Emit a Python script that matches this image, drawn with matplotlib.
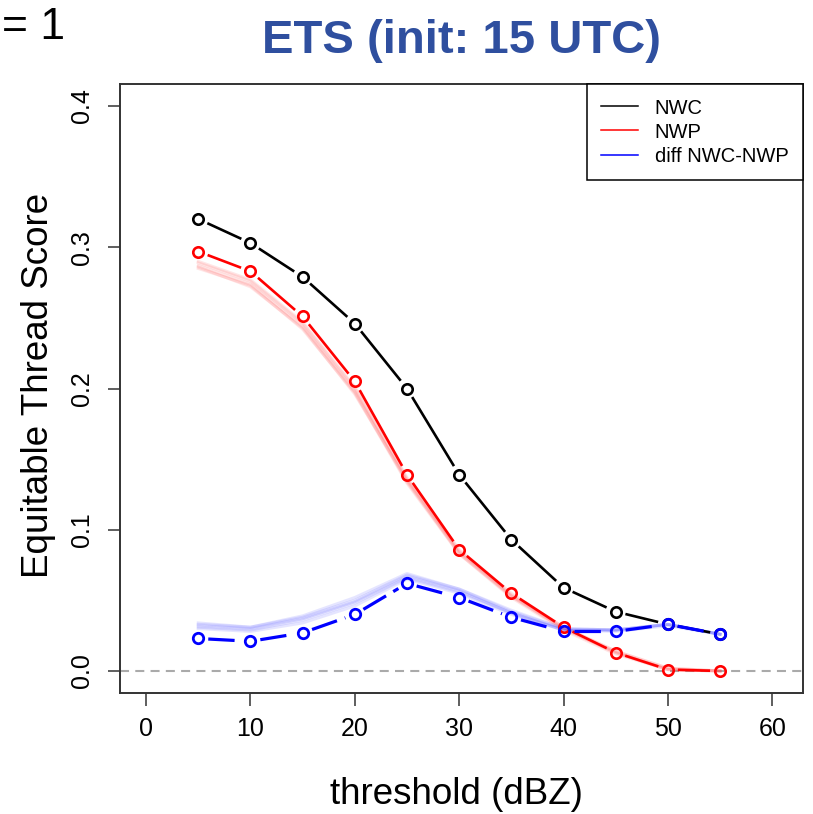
import numpy as np
import matplotlib
matplotlib.use("agg")
import matplotlib.pyplot as plt
from matplotlib.collections import LineCollection
from matplotlib.lines import Line2D

plt.rcParams['font.family'] = ['Liberation Sans', 'DejaVu Sans']
plt.rcParams['lines.scale_dashes'] = False

threshold = [5, 10, 15, 20, 25, 30, 35, 40, 45, 50, 55]
nwc = [0.320, 0.303, 0.279, 0.246, 0.200, 0.139, 0.093, 0.059, 0.042, 0.033, 0.026]
nwp = [0.297, 0.283, 0.251, 0.205, 0.139, 0.086, 0.055, 0.031, 0.013, 0.001, 0.000]
diff = [0.023, 0.021, 0.027, 0.040, 0.062, 0.052, 0.038, 0.028, 0.028, 0.033, 0.026]

# faint member lines behind NWP and diff
nwp_members = [
    [0.289, 0.276, 0.246, 0.200, 0.136, 0.085, 0.054, 0.031, 0.014, 0.002, 0.000],
    [0.287, 0.274, 0.244, 0.198, 0.134, 0.084, 0.053, 0.030, 0.013, 0.001, 0.000],
    [0.285, 0.273, 0.242, 0.197, 0.133, 0.083, 0.053, 0.030, 0.013, 0.001, 0.000],
    [0.290, 0.277, 0.247, 0.201, 0.137, 0.086, 0.055, 0.031, 0.014, 0.002, 0.000],
    [0.286, 0.272, 0.243, 0.196, 0.135, 0.083, 0.052, 0.029, 0.012, 0.001, 0.000],
]
diff_members = [
    [0.033, 0.031, 0.038, 0.050, 0.068, 0.058, 0.042, 0.030, 0.029, 0.033, 0.026],
    [0.031, 0.029, 0.036, 0.048, 0.066, 0.056, 0.041, 0.029, 0.029, 0.033, 0.026],
    [0.034, 0.031, 0.039, 0.052, 0.069, 0.058, 0.043, 0.030, 0.029, 0.033, 0.026],
    [0.030, 0.028, 0.034, 0.046, 0.065, 0.055, 0.040, 0.029, 0.028, 0.032, 0.026],
    [0.032, 0.030, 0.037, 0.049, 0.067, 0.057, 0.041, 0.029, 0.029, 0.033, 0.026],
]

xticks = [0, 10, 20, 30, 40, 50, 60]
yticks = [0.0, 0.1, 0.2, 0.3, 0.4]

W, H = 813, 814
fig = plt.figure(figsize=(W / 100, H / 100), dpi=100)
ax = fig.add_axes([120 / W, 1 - 693 / H, 683 / W, 609 / H])
ax.set_xlim(-2.5, 62.95)
ax.set_ylim(-0.0156, 0.4156)


def gapped(x, y, color, gap=10, **kw):
    # R type="b": segments stop short of the points
    pts = ax.transData.transform(np.column_stack([x, y]))
    inv = ax.transData.inverted()
    segs = []
    for p0, p1 in zip(pts[:-1], pts[1:]):
        d = p1 - p0
        L = np.hypot(*d)
        if L <= 2 * gap:
            continue
        u = d / L
        segs.append(inv.transform(np.array([p0 + u * gap, p1 - u * gap])))
    ax.add_collection(LineCollection(segs, colors=color, **kw))


ax.axhline(0, color='#aaaaaa', lw=1.5, linestyle=(0, (6.5, 4.5)), zorder=1)

for m in nwp_members:
    ax.plot(threshold, m, color='#ff3030', alpha=0.12, lw=2.2, zorder=2)
for m in diff_members:
    ax.plot(threshold, m, color='#3030ff', alpha=0.12, lw=2.2, zorder=2)

lw = 1.9
gapped(threshold, nwc, 'black', linewidths=lw, zorder=3)
ax.plot(threshold, nwc, 'o', mfc='none', mec='black', ms=7.5, mew=1.9, zorder=4)
gapped(threshold, nwp, 'red', linewidths=lw, zorder=5)
ax.plot(threshold, nwp, 'o', mfc='none', mec='red', ms=7.5, mew=1.9, zorder=6)
gapped(threshold, diff, 'blue', linewidths=2.3, linestyles=[(0, (19, 6))], zorder=7)
ax.plot(threshold, diff, 'o', mfc='none', mec='blue', ms=7.5, mew=2.0, zorder=8)

for s in ax.spines.values():
    s.set_color('#333333')
    s.set_linewidth(1.4)
ax.set_xticks(xticks)
ax.set_xticklabels([str(t) for t in xticks])
ax.set_yticks(yticks)
ax.set_yticklabels(['%.1f' % t for t in yticks], rotation=90, va='center')
ax.tick_params(length=9, width=1.1, color='#333333', labelsize=18, pad=8)
ax.tick_params(axis='y', pad=10)

handles = [Line2D([], [], color='black', lw=1.1),
           Line2D([], [], color='red', lw=1.1),
           Line2D([], [], color='blue', lw=1.1)]
leg = ax.legend(handles, ['NWC', 'NWP', 'diff NWC-NWP'], loc='upper right',
                bbox_to_anchor=(1, 1), borderaxespad=0, fancybox=False,
                edgecolor='black', framealpha=1, fontsize=14.5, handlelength=1.8,
                handletextpad=0.85, borderpad=0.72, labelspacing=0.25)
leg.get_frame().set_linewidth(1.1)

fig.text(461 / W, 1 - 53 / H, 'ETS (init: 15 UTC)', color='#2f4f9f',
         fontsize=34, fontweight='bold', ha='center', va='baseline')
fig.text(65 / W, 1 - 39 / H, '= 1', fontsize=32, ha='right', va='baseline')
fig.text(456 / W, 1 - 795 / H, 'threshold (dBZ)', fontsize=26.5, ha='center', va='center')
fig.text(38 / W, 1 - 385 / H, 'Equitable Thread Score', fontsize=26.5, rotation=90,
         ha='center', va='center')

plt.savefig('out.png', dpi=100)
